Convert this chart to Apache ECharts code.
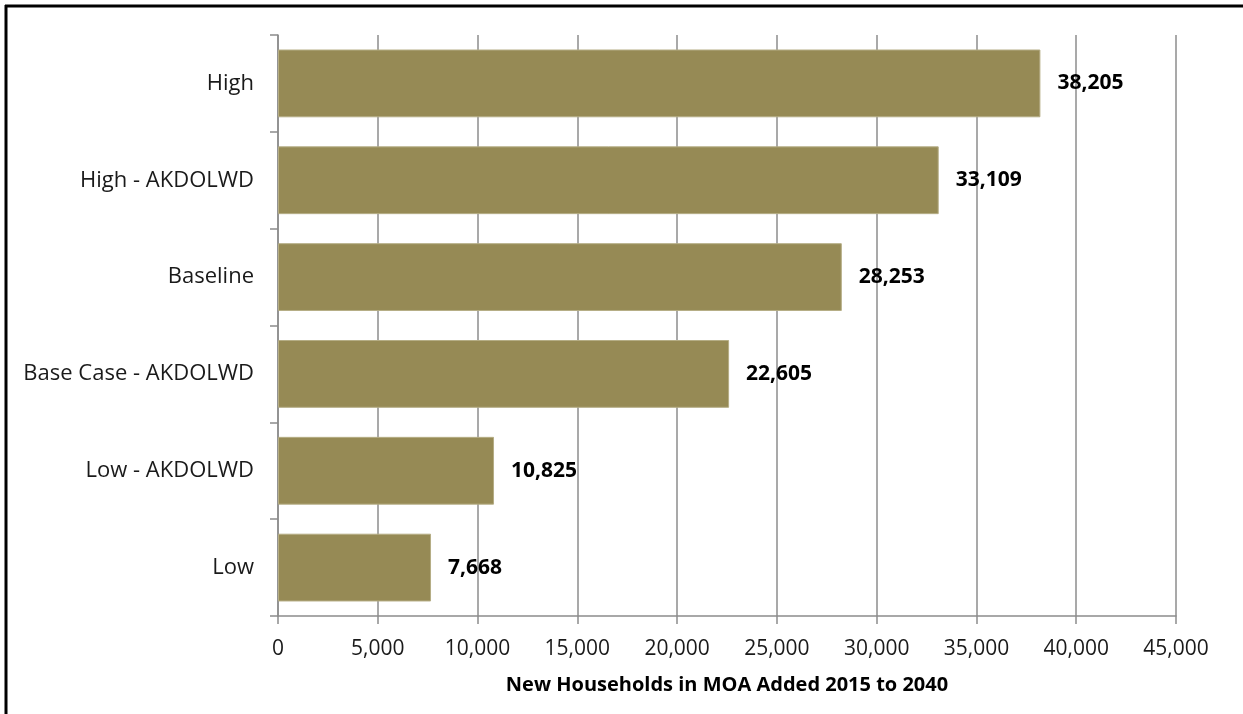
<!DOCTYPE html>
<html>
<head>
<meta charset="utf-8">
<script src="https://cdn.jsdelivr.net/npm/echarts@6/dist/echarts.min.js"></script>
<style>
html,body{margin:0;padding:0;background:#fff;}
#chart{width:1243px;height:714px;}
</style>
</head>
<body>
<div id="chart"></div>
<script>
const categories = ["High", "High - AKDOLWD", "Baseline", "Base Case - AKDOLWD", "Low - AKDOLWD", "Low"];
const values = [38205, 33109, 28253, 22605, 10825, 7668];
const axisTitle = "New Households in MOA Added 2015 to 2040";
const xMax = 45000;
const xStep = 5000;

const FONT = "'Open Sans', 'Noto Sans', sans-serif";
const chart = echarts.init(document.getElementById('chart'), null, {renderer: 'canvas'});
chart.setOption({
  animation: false,
  backgroundColor: '#ffffff',
  grid: {left: 278, right: 67, top: 35, bottom: 98, containLabel: false},
  xAxis: {
    type: 'value', min: 0, max: xMax, interval: xStep,
    name: axisTitle, nameLocation: 'middle', nameGap: 59,
    nameTextStyle: {fontFamily: FONT, fontSize: 20, fontWeight: 'bold', color: '#000'},
    axisLine: {show: true, lineStyle: {color: '#8c8c8c', width: 1.5}},
    axisTick: {show: true, length: 8, lineStyle: {color: '#8c8c8c', width: 1.5}},
    axisLabel: {
      fontFamily: FONT, fontSize: 21, color: '#1a1a1a', margin: 23,
      formatter: v => v.toLocaleString('en-US')
    },
    splitLine: {show: true, lineStyle: {color: '#8c8c8c', width: 1.5}}
  },
  yAxis: {
    type: 'category', data: categories, inverse: true,
    axisLine: {show: true, lineStyle: {color: '#8c8c8c', width: 1.5}},
    axisTick: {show: true, length: 8, lineStyle: {color: '#8c8c8c', width: 1.5}},
    axisLabel: {fontFamily: FONT, fontSize: 22, color: '#1a1a1a', margin: 24, padding: [3, 0, 0, 0]}
  },
  series: [{
    type: 'bar', data: values, barCategoryGap: '30%',
    itemStyle: {color: '#968a55', borderColor: '#b5ad85', borderWidth: 1},
    label: {
      show: true, position: 'right', distance: 17,
      fontFamily: FONT, fontSize: 21, fontWeight: 'bold', color: '#000',
      padding: [3, 0, 0, 0],
      formatter: p => p.value.toLocaleString('en-US')
    }
  }],
  graphic: [
    {type: 'line', shape: {x1: 5, y1: 6, x2: 1243, y2: 6}, style: {stroke: '#000', lineWidth: 3}},
    {type: 'line', shape: {x1: 6, y1: 5, x2: 6, y2: 714}, style: {stroke: '#000', lineWidth: 3}}
  ]
});
</script>
</body>
</html>
